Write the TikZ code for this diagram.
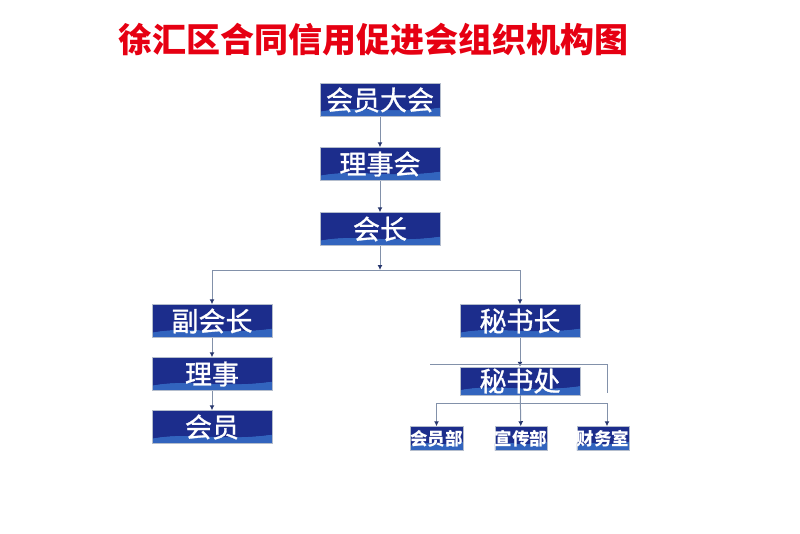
\documentclass[tikz,border=0pt]{standalone}
\usepackage{fontspec}
\newfontfamily\cjk{Noto Sans CJK SC}
\newfontfamily\cjkfb{Noto Sans CJK SC}[FakeBold=1]
\usetikzlibrary{arrows.meta}
\definecolor{navy}{RGB}{28,45,140}
\definecolor{wavec}{RGB}{50,100,190}
\definecolor{linec}{RGB}{130,145,170}
\definecolor{tipc}{RGB}{40,55,110}
\definecolor{titlered}{RGB}{230,0,18}
\tikzset{
  pbox/.style={draw=linec!60, line width=0.5pt, fill=navy, text=white, inner sep=0pt,
    path picture={
      \fill[wavec] (path picture bounding box.south west) -- ([yshift=5pt]path picture bounding box.south west)
        .. controls ([xshift=35pt,yshift=12pt]path picture bounding box.south west) and ([xshift=-50pt,yshift=2pt]path picture bounding box.south east)
        .. ([yshift=9pt]path picture bounding box.south east) -- (path picture bounding box.south east) -- cycle;
      \fill[navy] ([yshift=5pt]path picture bounding box.south west)
        .. controls ([xshift=35pt,yshift=12pt]path picture bounding box.south west) and ([xshift=-50pt,yshift=2pt]path picture bounding box.south east)
        .. ([yshift=9pt]path picture bounding box.south east) -- ([yshift=11pt]path picture bounding box.south east)
        .. controls ([xshift=-50pt,yshift=6pt]path picture bounding box.south east) and ([xshift=35pt,yshift=16pt]path picture bounding box.south west)
        .. ([yshift=7pt]path picture bounding box.south west) -- cycle;
    }},
  bigbox/.style={pbox, minimum width=120pt, minimum height=33pt, font=\cjkfb\fontsize{27}{27}\selectfont},
  smallbox/.style={pbox, minimum width=53pt, minimum height=24pt, font=\cjk\bfseries\fontsize{17.5}{17.5}\selectfont},
  conn/.style={draw=linec, line width=1pt},
  arr/.style={conn, -{Latex[length=5pt,width=5pt,color=tipc]}},
}
\begin{document}
\begin{tikzpicture}[x=1pt,y=-1pt]
\useasboundingbox (0,0) rectangle (800,533);
\node[font=\cjk\bfseries\fontsize{34}{34}\selectfont, text=titlered] (title) at (373,40) {徐汇区合同信用促进会组织机构图};
% main column
\node[bigbox] (n1) at (380,100) {会员大会};
\node[bigbox] (n2) at (380,164) {理事会};
\node[bigbox] (n3) at (380,229) {会长};
% left branch
\node[bigbox] (v1) at (212,321) {副会长};
\node[bigbox] (v2) at (212,374) {理事};
\node[bigbox] (v3) at (212,427) {会员};
% right branch
\node[bigbox] (s1) at (520,321) {秘书长};
\node[bigbox, minimum height=28pt] (s2) at (520,381) {秘书处};
\node[smallbox] (d1) at (436.5,438.5) {会员部};
\node[smallbox, minimum width=52pt] (d2) at (521,438.5) {宣传部};
\node[smallbox, minimum width=52pt] (d3) at (603,438.5) {财务室};
% connectors
\coordinate (j1) at (380,270);
\draw[arr] (n1) -- (n2);
\draw[arr] (n2) -- (n3);
\draw[arr] (n3) -- (j1);
\draw[arr] (j1) -| (v1);
\draw[arr] (j1) -| (s1);
\draw[arr] (v1) -- (v2);
\draw[arr] (v2) -- (v3);
\draw[arr] (s1) -- (s2);
\coordinate (b1) at (430,364);
\coordinate (b2) at (607,364);
\coordinate (b3) at (607,393);
\draw[conn] (b1) -- (b2) -- (b3);
\coordinate (c1) at (436.5,403);
\coordinate (c3) at (607,403);
\draw[conn] (c1) -- (c3);
\draw[arr] (c1) -- (d1);
\draw[arr] (s2) -- (d2);
\draw[arr] (c3) -- (c3 |- d3.north);
\end{tikzpicture}
\end{document}
